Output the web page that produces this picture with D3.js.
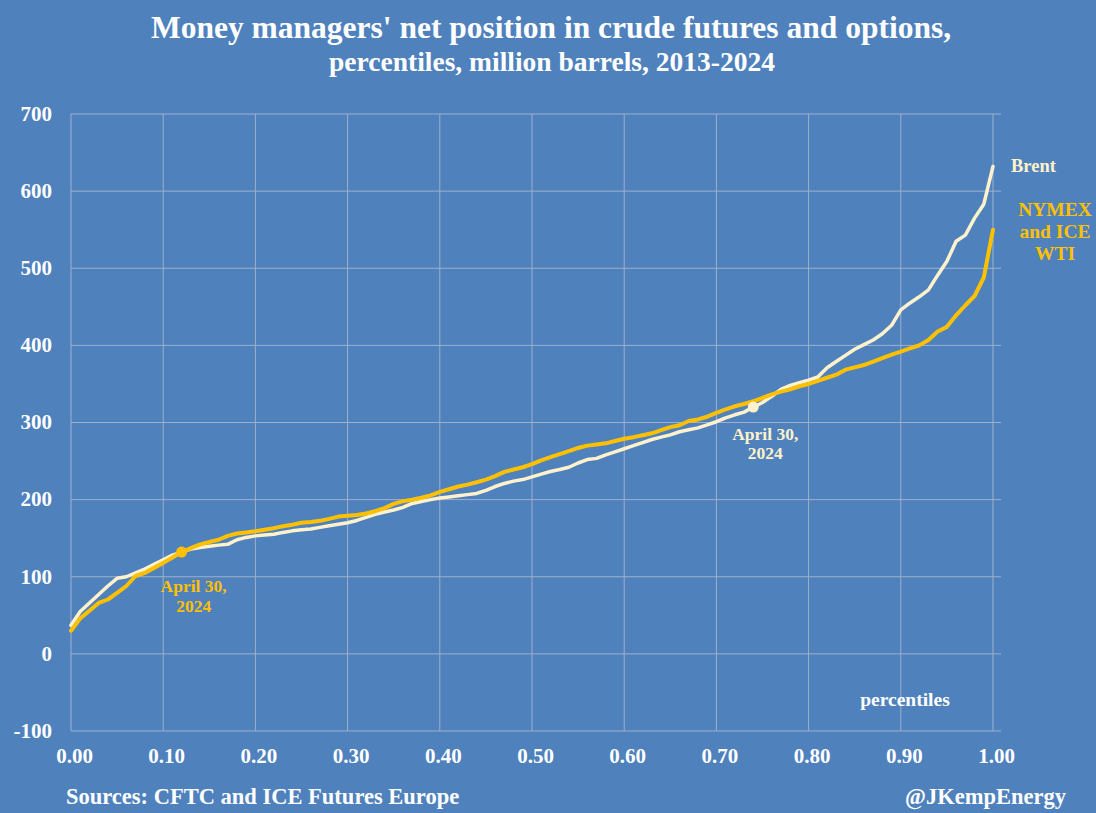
<!DOCTYPE html>
<html>
<head>
<meta charset="utf-8">
<script src="https://cdn.jsdelivr.net/npm/d3@7"></script>
<style>
  html, body { margin: 0; padding: 0; background: #4F81BD; }
  svg { display: block; }
  text { font-family: "Liberation Serif", "DejaVu Serif", serif; font-weight: bold; }
</style>
</head>
<body>
<svg id="chart" width="1096" height="813"></svg>
<script>
// ---------- DATA ----------
const percentiles = d3.range(0, 101).map(i => i / 100);
const brent = [37, 55, 66, 77, 88, 98, 100, 105, 110, 116,
  122, 128, 132, 136, 138, 139.5, 141, 142, 148, 151,
  153, 154, 155, 157.5, 159.5, 161, 162, 164, 166, 168,
  170, 173, 177, 181, 184, 186.5, 190, 195, 197.5, 200,
  202, 203.5, 205, 206.5, 208, 212, 217, 221, 224, 226,
  229.5, 233, 236.5, 239, 242, 247.5, 252, 253.5, 258, 262,
  266, 270, 274, 278, 281, 284, 288, 290.5, 293, 297,
  301, 306, 310, 313.5, 320, 326, 334, 343, 348, 351.5,
  355, 359, 371, 379, 387, 395, 401, 407, 415, 426,
  446, 455, 463, 472, 491, 509, 535, 543, 565, 583, 632];
const wti = [30, 46, 56, 66, 70.5, 79, 88, 101, 105, 111.5,
  118, 125, 132, 137, 142, 145, 148, 153, 156, 157.5,
  159, 161, 163, 165.5, 167.5, 170, 171, 172.5, 175, 178,
  179, 180, 182, 185, 189, 194.5, 198, 200, 202.5, 205.5,
  210, 213.5, 217, 219.5, 222.5, 226, 230.5, 236, 239, 242,
  246, 251, 255, 259, 263, 267, 270, 271.5, 273, 276,
  279, 281, 283.5, 286, 290, 294, 296.5, 302, 304, 307.5,
  312.5, 317, 321, 324, 327.5, 332, 336.5, 340, 343, 347,
  350, 354, 358, 362, 368.5, 371.5, 374.5, 379, 383.5, 388,
  392, 396, 400, 407, 418, 424, 439, 452, 464, 488, 550];
const xTicks = [0, 0.1, 0.2, 0.3, 0.4, 0.5, 0.6, 0.7, 0.8, 0.9, 1.0];
const yTicks = [-100, 0, 100, 200, 300, 400, 500, 600, 700];
const latestWtiIndex = 12;    // April 30, 2024 percentile position for WTI
const latestBrentIndex = 74;  // April 30, 2024 percentile position for Brent

// ---------- STYLE ----------
const BG = "#4F81BD";
const GOLD = "#FFC000";
const CREAM = "#FFF2CC";
const GRID = "#9FB0CC";

const svg = d3.select("#chart");
const W = 1096, H = 813;
svg.append("rect").attr("width", W).attr("height", H).attr("fill", BG);

const x = d3.scaleLinear().domain([0, 1]).range([71, 993]);
const y = d3.scaleLinear().domain([-100, 700]).range([731, 114]);

// gridlines
const g = svg.append("g");
g.selectAll("line.h").data(yTicks).join("line")
  .attr("x1", 71).attr("x2", 1001)
  .attr("y1", d => y(d)).attr("y2", d => y(d))
  .attr("stroke", GRID).attr("stroke-width", 1);
g.selectAll("line.v").data(xTicks).join("line")
  .attr("x1", d => x(d)).attr("x2", d => x(d))
  .attr("y1", y(700)).attr("y2", y(-100))
  .attr("stroke", GRID).attr("stroke-width", 1);

// axes labels
const yAxis = d3.axisLeft(y).tickValues(yTicks).tickSize(0).tickPadding(0)
  .tickFormat(d => String(d));
const ya = svg.append("g").attr("transform", "translate(52,0)").call(yAxis);
ya.select(".domain").remove();
ya.selectAll("text").attr("fill", "#fff").attr("font-size", 21)
  .attr("font-family", "Liberation Serif, serif").attr("font-weight", "bold").attr("dy", "0.3em");

const xAxis = d3.axisBottom(x).tickValues(xTicks).tickSize(0).tickPadding(0).tickFormat(d3.format(".2f"));
const xa = svg.append("g").attr("transform", "translate(3,748)").call(xAxis);
xa.select(".domain").remove();
xa.selectAll("text").attr("fill", "#fff").attr("font-size", 21)
  .attr("font-family", "Liberation Serif, serif").attr("font-weight", "bold");

// lines
const line = d3.line().x((d, i) => x(percentiles[i])).y(d => y(d)).curve(d3.curveLinear);
svg.append("path").datum(brent).attr("d", line)
  .attr("fill", "none").attr("stroke", CREAM).attr("stroke-width", 3.5)
  .attr("stroke-linejoin", "round").attr("stroke-linecap", "round");
svg.append("path").datum(wti).attr("d", line)
  .attr("fill", "none").attr("stroke", GOLD).attr("stroke-width", 4)
  .attr("stroke-linejoin", "round").attr("stroke-linecap", "round");

// latest markers
svg.append("circle").attr("cx", x(percentiles[latestWtiIndex])).attr("cy", y(wti[latestWtiIndex]))
  .attr("r", 5.5).attr("fill", GOLD);
svg.append("circle").attr("cx", x(percentiles[latestBrentIndex])).attr("cy", y(brent[latestBrentIndex]))
  .attr("r", 5.5).attr("fill", CREAM);

// text helper
function txt(str, px, py, size, color, anchor) {
  return svg.append("text").attr("x", px).attr("y", py).attr("font-size", size)
    .attr("fill", color).attr("text-anchor", anchor || "middle").text(str);
}

// Title
txt("Money managers' net position in crude futures and options,", 551, 38, 31.5, "#fff");
txt("percentiles, million barrels, 2013-2024", 552, 71, 27.5, "#fff");

// annotations
txt("April 30,", x(percentiles[latestWtiIndex]) + 12, 592, 17.5, GOLD);
txt("2024", x(percentiles[latestWtiIndex]) + 12, 612, 17.5, GOLD);
txt("April 30,", x(percentiles[latestBrentIndex]) + 12, 440, 17.5, CREAM);
txt("2024", x(percentiles[latestBrentIndex]) + 12, 459, 17.5, CREAM);

txt("Brent", 1011, 172, 18.5, CREAM, "start");
txt("NYMEX", 1055, 216, 19.5, GOLD);
txt("and ICE", 1055, 238, 19.5, GOLD);
txt("WTI", 1055, 260, 19.5, GOLD);

txt("percentiles", 905, 706, 19.5, "#fff");

txt("Sources: CFTC and ICE Futures Europe", 66, 804, 22.5, "#fff", "start");
txt("@JKempEnergy", 1066, 804, 22.5, "#fff", "end");
</script>
</body>
</html>
